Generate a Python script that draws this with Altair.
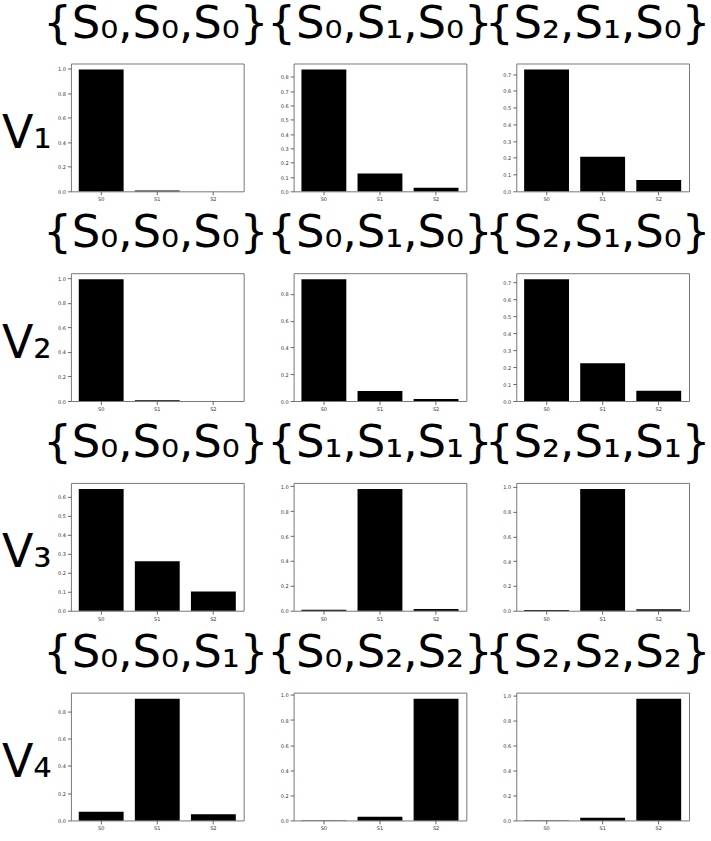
import altair as alt
import pandas as pd

states = ["S0", "S1", "S2"]
row_labels = ["V₁", "V₂", "V₃", "V₄"]
titles = [
    ["{S₀,S₀,S₀}", "{S₀,S₁,S₀}", "{S₂,S₁,S₀}"],
    ["{S₀,S₀,S₀}", "{S₀,S₁,S₀}", "{S₂,S₁,S₀}"],
    ["{S₀,S₀,S₀}", "{S₁,S₁,S₁}", "{S₂,S₁,S₁}"],
    ["{S₀,S₀,S₁}", "{S₀,S₂,S₂}", "{S₂,S₂,S₂}"],
]
values = [
    [[0.992, 0.007, 0.001], [0.851, 0.124, 0.025], [0.727, 0.206, 0.067]],
    [[0.993, 0.006, 0.001], [0.910, 0.075, 0.015], [0.717, 0.222, 0.061]],
    [[0.639, 0.260, 0.101], [0.008, 0.979, 0.013], [0.006, 0.982, 0.012]],
    [[0.063, 0.891, 0.046], [0.001, 0.029, 0.970], [0.001, 0.021, 0.978]],
]
ticks_02 = [0.0, 0.2, 0.4, 0.6, 0.8, 1.0]
ticks_01 = [0.0, 0.1, 0.2, 0.3, 0.4, 0.5, 0.6, 0.7, 0.8]
y_ticks = [
    [ticks_02, ticks_01, ticks_01],
    [ticks_02, ticks_02, ticks_01],
    [ticks_01, ticks_02, ticks_02],
    [ticks_02, ticks_02, ticks_02],
]
title_dx = [-1.5, 0, -5]

W, H = 173, 128
FONT = "DejaVu Sans"


def panel(r, c):
    vals = values[r][c]
    df = pd.DataFrame({"state": states, "p": vals})
    ymax = max(vals) * 1.05
    ykw = dict(
        values=y_ticks[r][c],
        format=".1f",
        labelFontSize=5,
        labelFont=FONT,
        labelColor="#333",
        tickSize=3.5,
        tickWidth=0.8,
        tickColor="#444",
        labelPadding=2,
        domain=False,
        grid=False,
    )
    if c == 0:
        ykw.update(
            title=row_labels[r],
            titleAngle=0,
            titleFontSize=46,
            titleFont=FONT,
            titleFontWeight="normal",
            titleColor="black",
            titleAlign="left",
            titleBaseline="alphabetic",
            titleX=-69.6,
            titleY=84,
        )
    else:
        ykw.update(title=None)
    return (
        alt.Chart(df)
        .mark_bar(color="black")
        .encode(
            x=alt.X(
                "state:N",
                sort=states,
                scale=alt.Scale(paddingInner=0.2, paddingOuter=0.14),
                axis=alt.Axis(
                    title=None,
                    labelAngle=0,
                    labelFontSize=5,
                    labelFont=FONT,
                    labelColor="#333",
                    tickSize=3.5,
                    tickWidth=0.8,
                    tickColor="#444",
                    labelPadding=2,
                    domain=False,
                    grid=False,
                ),
            ),
            y=alt.Y(
                "p:Q",
                scale=alt.Scale(domain=[0, ymax], nice=False, zero=True),
                axis=alt.Axis(**ykw),
            ),
        )
        .properties(
            width=W,
            height=H,
            title=alt.TitleParams(
                text=titles[r][c],
                fontSize=45,
                font=FONT,
                fontWeight="normal",
                color="black",
                anchor="middle",
                frame="group",
                baseline="alphabetic",
                offset=-19,
                dx=title_dx[c],
            ),
        )
    )


charts = [panel(r, c) for r in range(4) for c in range(3)]

chart = (
    alt.concat(*charts, columns=3)
    .properties(
        spacing={"row": 82, "column": 50},
        bounds="flush",
        padding={"left": 0, "top": 0, "right": 0, "bottom": 0},
        background="white",
    )
    .configure_view(stroke="#777", strokeWidth=1)
)

chart.save("out.html", embed_options={"renderer": "svg", "actions": False})
